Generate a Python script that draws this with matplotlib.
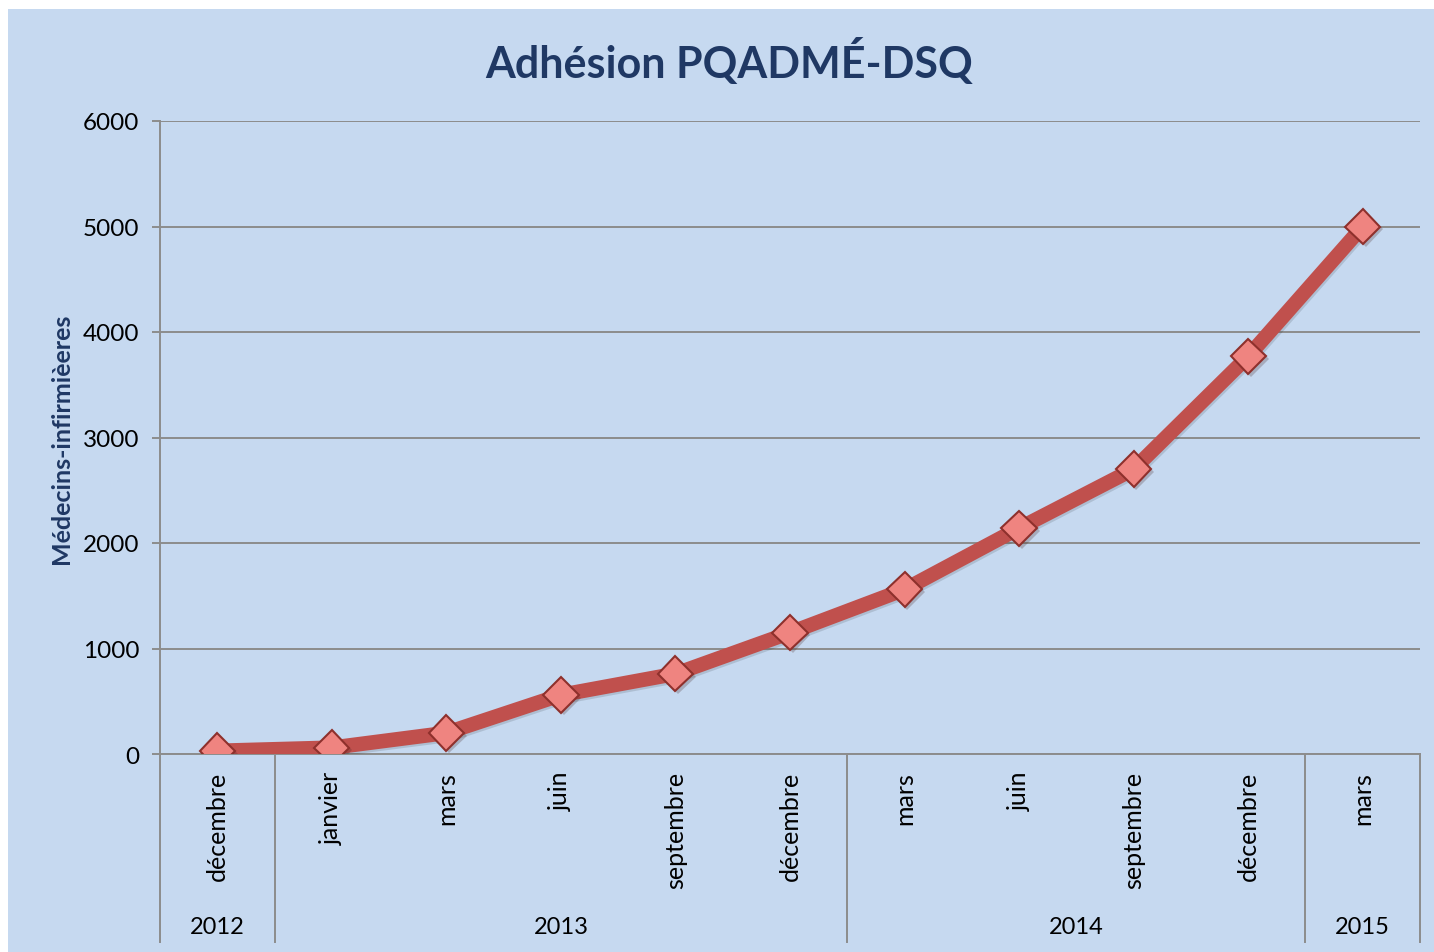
import matplotlib.pyplot as plt
import matplotlib.patheffects as pe
from matplotlib.patches import Rectangle
import matplotlib.transforms as mtransforms

# Data
months = ["décembre", "janvier", "mars", "juin", "septembre", "décembre",
          "mars", "juin", "septembre", "décembre", "mars"]
years = ["2012", "2013", "2013", "2013", "2013", "2013",
         "2014", "2014", "2014", "2014", "2015"]
adhesions = [30, 60, 200, 560, 760, 1150, 1560, 2140, 2700, 3770, 5000]

bg = "#C6D9F0"
navy = "#1F3864"
grid_gray = "#8C8C8C"

plt.rcParams["font.family"] = ["Lato", "DejaVu Sans"]

fig = plt.figure(figsize=(14.34, 9.53), dpi=100)
fig.patch.set_facecolor("white")
fig.patches.append(Rectangle((8 / 1434, 0), 1 - 8 / 1434, 1 - 10 / 953,
                             transform=fig.transFigure, facecolor=bg,
                             edgecolor="none", zorder=-10))

ax = fig.add_axes([160 / 1434, 1 - 755 / 953, 1260 / 1434, 633 / 953])
ax.set_facecolor(bg)

x = list(range(len(months)))
ax.plot(x, adhesions, color="#C0504D", linewidth=10.5, solid_capstyle="round",
        zorder=3,
        path_effects=[pe.SimpleLineShadow(offset=(1, -1.5), alpha=0.12),
                      pe.Normal()])
ax.plot(x, adhesions, linestyle="none", marker="D", markersize=18,
        markerfacecolor="#EF8480", markeredgecolor="#8E302C",
        markeredgewidth=1.5, zorder=4,
        path_effects=[pe.SimplePatchShadow(offset=(2, -2), alpha=0.25),
                      pe.Normal()])

ax.set_xlim(-0.5, len(months) - 0.5)
ax.set_ylim(0, 6000)
ax.set_yticks(range(0, 6001, 1000))
ax.yaxis.grid(True, color=grid_gray, linewidth=1.4)
ax.set_axisbelow(True)

for side in ["top", "right"]:
    ax.spines[side].set_visible(False)
for side in ["left", "bottom"]:
    ax.spines[side].set_color(grid_gray)
    ax.spines[side].set_linewidth(1.4)

ax.tick_params(axis="y", direction="out", length=6, width=1.4,
               color=grid_gray, labelsize=17.5, pad=9, labelcolor="black")
ax.set_xticks(x)
ax.set_xticklabels(months, rotation=90, fontsize=18, va="top")
ax.tick_params(axis="x", length=0, pad=12)

ax.set_ylabel("Médecins-infirmièeres", fontsize=18, fontweight="bold",
              color=navy, labelpad=7)

# Year grouping on the category axis
trans = mtransforms.blended_transform_factory(ax.transData, ax.transAxes)
groups = []
for i, yr in enumerate(years):
    if groups and groups[-1][0] == yr:
        groups[-1][2] = i
    else:
        groups.append([yr, i, i])
line_bottom = -(943 - 755) / 633
bounds = [g[1] - 0.5 for g in groups] + [groups[-1][2] + 0.5]
for b in bounds:
    ax.plot([b, b], [0, line_bottom], transform=trans, color=grid_gray,
            linewidth=1.4, clip_on=False)
for yr, start, end in groups:
    ax.text((start + end) / 2, -(927 - 755) / 633, yr, transform=trans,
            ha="center", va="center", fontsize=17)

fig.text(729 / 1434, 1 - 62 / 953, "Adhésion PQADMÉ-DSQ", ha="center",
         va="center", fontsize=31, fontweight="bold", color=navy)

fig.savefig("out.png", dpi=100)
